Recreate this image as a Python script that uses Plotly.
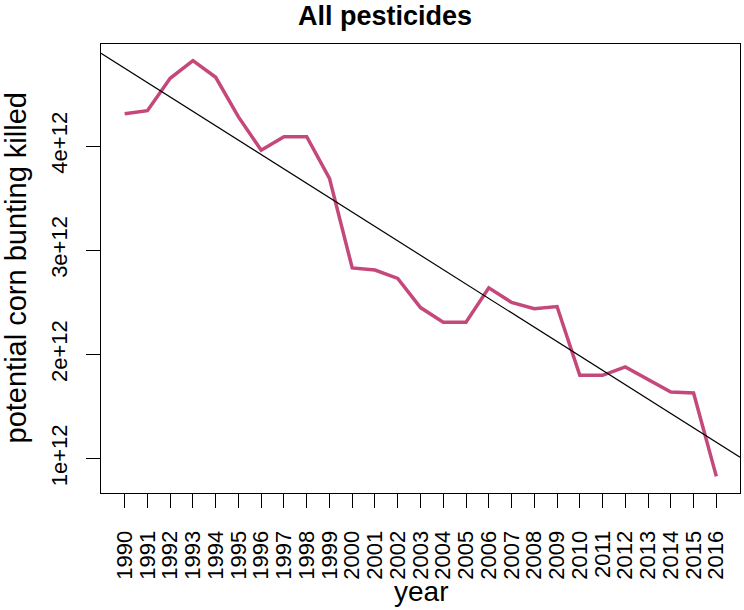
import numpy as np
import plotly.graph_objects as go

# data (values in units of 1e12)
years = list(range(1990, 2017))
killed = [4.31, 4.34, 4.65, 4.82, 4.66, 4.28, 3.96, 4.09, 4.09, 3.69,
          2.83, 2.81, 2.73, 2.45, 2.31, 2.31, 2.64, 2.50, 2.44, 2.46,
          1.80, 1.80, 1.88, 1.76, 1.64, 1.63, 0.83]
killed = [v * 1e12 for v in killed]
y_ticks = [1e12, 2e12, 3e12, 4e12]
y_tick_text = ["1e+12", "2e+12", "3e+12", "4e+12"]

_LINE = "#C5487A"
_FONT = "Liberation Sans, Arial, Helvetica, sans-serif"


def r_range(vals):
    # R's default 4% axis extension
    lo, hi = min(vals), max(vals)
    pad = (hi - lo) * 0.04
    return [lo - pad, hi + pad]


x_rng = r_range(years)
y_rng = r_range(killed)

# least-squares trend line (abline(lm(...))) across the full plot width
slope, icpt = np.polyfit(years, killed, 1)
trend_x = x_rng
trend_y = [slope * x + icpt for x in trend_x]

fig = go.Figure()
fig.add_trace(go.Scatter(
    x=years, y=killed, mode="lines",
    line=dict(color=_LINE, width=3.5),
    hoverinfo="skip",
))
fig.add_trace(go.Scatter(
    x=trend_x, y=trend_y, mode="lines",
    line=dict(color="black", width=1.2),
    hoverinfo="skip",
))

axis_common = dict(
    showgrid=False, zeroline=False,
    showline=True, linecolor="black", linewidth=1, mirror=True,
    ticks="outside", ticklen=14, tickcolor="black", tickwidth=1,
    tickfont=dict(family=_FONT, size=22, color="black"),
    tickangle=-90,
)

fig.update_layout(
    width=744, height=610,
    paper_bgcolor="white", plot_bgcolor="white",
    showlegend=False,
    margin=dict(l=101, r=4, t=44, b=117),
    xaxis=dict(range=x_rng, tickmode="array", tickvals=years,
               ticktext=[str(y) for y in years], ticklabelstandoff=14,
               **axis_common),
    yaxis=dict(range=y_rng, tickmode="array", tickvals=y_ticks,
               ticktext=y_tick_text, ticklabelstandoff=10, **axis_common),
    annotations=[
        dict(text="<b>All pesticides</b>", xref="paper", yref="paper",
             x=0.444, y=1.0, yshift=28, xanchor="center", yanchor="middle",
             showarrow=False, font=dict(family=_FONT, size=27, color="black")),
        dict(text="year", xref="paper", yref="paper",
             x=0.5, y=0.0, yshift=-98, xanchor="center", yanchor="middle",
             showarrow=False, font=dict(family=_FONT, size=28, color="black")),
        dict(text="potential corn bunting killed", xref="paper", yref="paper",
             x=0.0, y=0.5, xshift=-86, textangle=-90,
             xanchor="center", yanchor="middle",
             showarrow=False, font=dict(family=_FONT, size=29, color="black")),
    ],
)

fig.write_html("out.html", config={"displayModeBar": False},
               post_script="document.body.style.margin='0';")
